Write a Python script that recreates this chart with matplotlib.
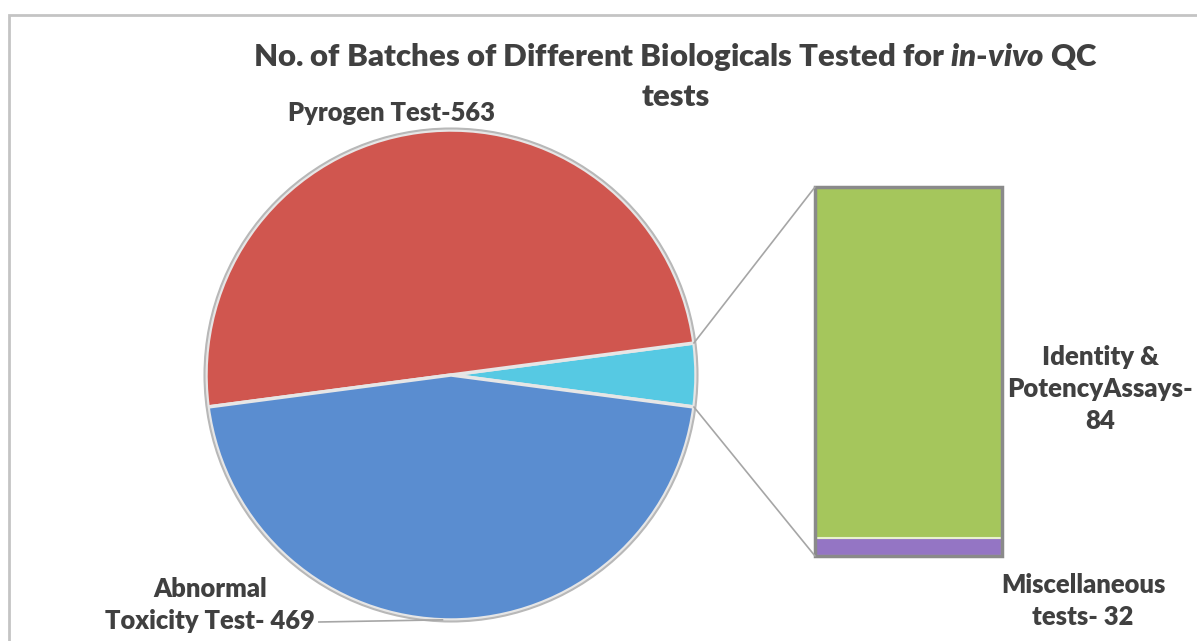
import numpy as np
import matplotlib
matplotlib.use('Agg')
import matplotlib.pyplot as plt
from matplotlib.patches import Rectangle, Circle, ConnectionPatch

# ---------------- data ----------------
pie_labels = ['Other tests', 'Pyrogen Test-563', 'Abnormal\nToxicity Test- 469']
pie_counts = [116, 563, 469]
pie_share_as_drawn = [15, 180, 165]      # slice sizes as they appear in the picture
bar_labels = ['Miscellaneous\ntests- 32', 'Identity &\nPotencyAssays-\n84']
bar_counts = [32, 84]
bar_share_as_drawn = [5, 95]             # segment sizes as they appear in the picture
title_text = r'No. of Batches of Different Biologicals Tested for $\mathit{in}$-$\mathit{vivo}$ QC'
title_line2 = 'tests'

# ---------------- style ----------------
W, H = 1197, 641
WEIGHT = 800
plt.rcParams['font.family'] = ['Lato', 'DejaVu Sans']
plt.rcParams['mathtext.fontset'] = 'custom'
plt.rcParams['mathtext.it'] = 'Lato:italic:weight=800'
plt.rcParams['mathtext.rm'] = 'Lato:weight=800'
TXT = '#404040'
c_cyan, c_red, c_blue = '#56C9E3', '#D0564F', '#5A8DD0'
c_purple, c_green = '#9475C4', '#A5C65C'

fig = plt.figure(figsize=(W / 100, H / 100), dpi=100)
ax = fig.add_axes([0, 0, 1, 1])

# pie
cx, cy, R = 451, H - 375, 245
wedges, _ = ax.pie(pie_share_as_drawn, colors=[c_cyan, c_red, c_blue],
                   startangle=-pie_share_as_drawn[0] / 2, counterclock=True,
                   center=(cx, cy), radius=R,
                   wedgeprops=dict(edgecolor='#e6e6e6', linewidth=2.5))
ax.add_patch(Circle((cx, cy), R + 1.5, fill=False, edgecolor='#b8b8b8', lw=1.5))
ax.set_xlim(0, W)
ax.set_ylim(0, H)
ax.set_aspect('auto')
ax.axis('off')

# frame
ax.add_patch(Rectangle((9, -20), W + 20, H - 15 + 20, fill=False,
                       edgecolor='#c4c4c4', lw=2, clip_on=False))

# bar (second plot)
bx0, bx1, by_top, by_bot = 815, 1002, 187, 556
bax = fig.add_axes([bx0 / W, (H - by_bot) / H, (bx1 - bx0) / W, (by_bot - by_top) / H])
bax.set_xlim(-0.5, 0.5)
bax.set_ylim(0, sum(bar_share_as_drawn))
bax.axis('off')
bax.bar(0, bar_share_as_drawn[0], width=1, color=c_purple, edgecolor='white', lw=1.5)
bax.bar(0, bar_share_as_drawn[1], bottom=bar_share_as_drawn[0], width=1,
        color=c_green, edgecolor='#e8f2cf', lw=1.5)
bax.add_patch(Rectangle((0, 0), 1, 1, transform=bax.transAxes, fill=False,
                        edgecolor='#8a8a8a', lw=2.5, clip_on=False))

# connector lines
a_top = np.deg2rad(pie_share_as_drawn[0] / 2)
a_bot = -a_top
for ang, yb in [(a_top, sum(bar_share_as_drawn)), (a_bot, 0)]:
    p = (cx + R * np.cos(ang), cy + R * np.sin(ang))
    con = ConnectionPatch(xyA=p, coordsA=ax.transData, xyB=(-0.5, yb),
                          coordsB=bax.transData, color='#a6a6a6', lw=1.2)
    fig.add_artist(con)

r = fig.canvas.get_renderer()


def fit(t, width):
    w = t.get_window_extent(r).width
    t.set_fontsize(t.get_fontsize() * width / w)


# title
t1 = ax.text(676, H - 57, title_text, ha='center', va='center', fontsize=20,
             fontweight=WEIGHT, color=TXT)
fit(t1, 845)
ax.text(676, H - 97, title_line2, ha='center', va='center', fontsize=t1.get_fontsize(),
        fontweight=WEIGHT, color=TXT)

# labels
tp = ax.text(392, H - 113, pie_labels[1], ha='center', va='center', fontsize=15,
             fontweight=WEIGHT, color=TXT)
fit(tp, 208)
fs = tp.get_fontsize()
ti = ax.text(1100, H - 389, bar_labels[1], ha='center', va='center', fontsize=fs,
             fontweight=WEIGHT, color=TXT, linespacing=1.4)
fit(ti, 186)
ax.text(1083, H - 601, bar_labels[0], ha='center', va='center', fontsize=fs,
        fontweight=WEIGHT, color=TXT, linespacing=1.4)
ta = ax.text(210, H - 605, pie_labels[2], ha='center', va='center', fontsize=fs,
             fontweight=WEIGHT, color=TXT, linespacing=1.4)
# leader line for abnormal toxicity label
bb = ta.get_window_extent(r)
ang_b = np.deg2rad(-92)
ax.plot([bb.x1 + 4, cx + R * np.cos(ang_b)], [H - 622, cy + R * np.sin(ang_b)],
        color='#a6a6a6', lw=1.2)

fig.savefig('out.png', dpi=100)
